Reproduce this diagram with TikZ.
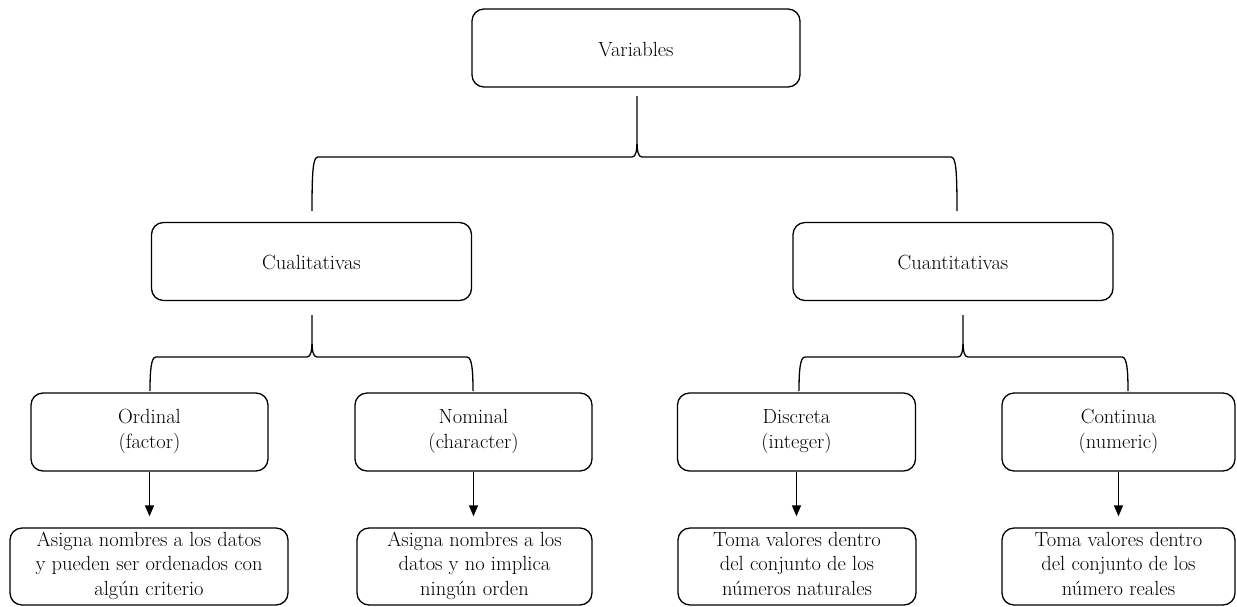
\documentclass[tikz,border=0pt]{standalone}
\usetikzlibrary{arrows.meta,calc}

% curly brace: left x, right x, tip x, tip top y, bar y, end y
\newcommand\curlybrace[6]{%
  \draw[bracel] (#1,#6) .. controls (#1,#5+14) and (#1+1,#5) .. (#1+6,#5)
    -- (#3-5,#5) .. controls (#3-1,#5) and (#3,#5-6) .. (#3,#5-18) -- (#3,#4)
    (#3,#5-18) .. controls (#3,#5-6) and (#3+1,#5) .. (#3+5,#5)
    -- (#2-6,#5) .. controls (#2-1,#5) and (#2,#5+14) .. (#2,#6);}

\begin{document}
\begin{tikzpicture}[x=1pt,y=-1pt,
  box/.style={draw, rounded corners=12pt, line width=1.3pt, align=center,
    inner sep=0pt, minimum height=78pt,
    font=\rmfamily\fontsize{20.5pt}{24.5pt}\selectfont,
    execute at begin node=\rule{0pt}{22pt},
    execute at end node=\rule[-6pt]{0pt}{0pt}},
  dbox/.style={box, minimum height=77pt,
    execute at begin node=\rule{0pt}{26pt}},
  bracel/.style={line width=1.3pt},
  arr/.style={line width=1.3pt, -{Triangle[length=11pt,width=9pt]}}]
\useasboundingbox (0,0) rectangle (1237,606);

% top level
\node[box, minimum width=328pt] (var) at (636,48) {Variables};

% second level
\node[box, minimum width=320pt] (cual) at (311.5,261.5) {Cualitativas};
\node[box, minimum width=320pt] (cuan) at (953,261.5) {Cuantitativas};

% third level
\node[box, minimum width=237pt] (ord) at (149.5,432) {Ordinal\\(factor)};
\node[box, minimum width=237pt] (nom) at (473.5,432) {Nominal\\(character)};
\node[box, minimum width=238pt] (dis) at (796.5,432) {Discreta\\(integer)};
\node[box, minimum width=233pt] (con) at (1118.5,432) {Continua\\(numeric)};

% descriptions
\node[dbox, minimum width=278pt] (ordd) at (149,566.5)
  {Asigna nombres a los datos\\y pueden ser ordenados con\\algún criterio};
\node[dbox, minimum width=235pt] (nomd) at (474.5,566.5)
  {Asigna nombres a los\\datos y no implica\\ningún orden};
\node[dbox, minimum width=238pt] (disd) at (797,566.5)
  {Toma valores dentro\\del conjunto de los\\números naturales};
\node[dbox, minimum width=233pt] (cond) at (1118.5,566.5)
  {Toma valores dentro\\del conjunto de los\\número reales};

% braces
\curlybrace{312}{957}{637}{96}{157}{211}
\curlybrace{150}{473}{312}{315}{357}{391}
\curlybrace{799}{1128}{963}{315}{357}{391}

% arrows
\foreach \a/\b in {ord/ordd, nom/nomd, dis/disd, con/cond}
  \draw[arr] (\a.south) -- ($(\a.south |- \b.north)+(0,-11)$);
\end{tikzpicture}
\end{document}
